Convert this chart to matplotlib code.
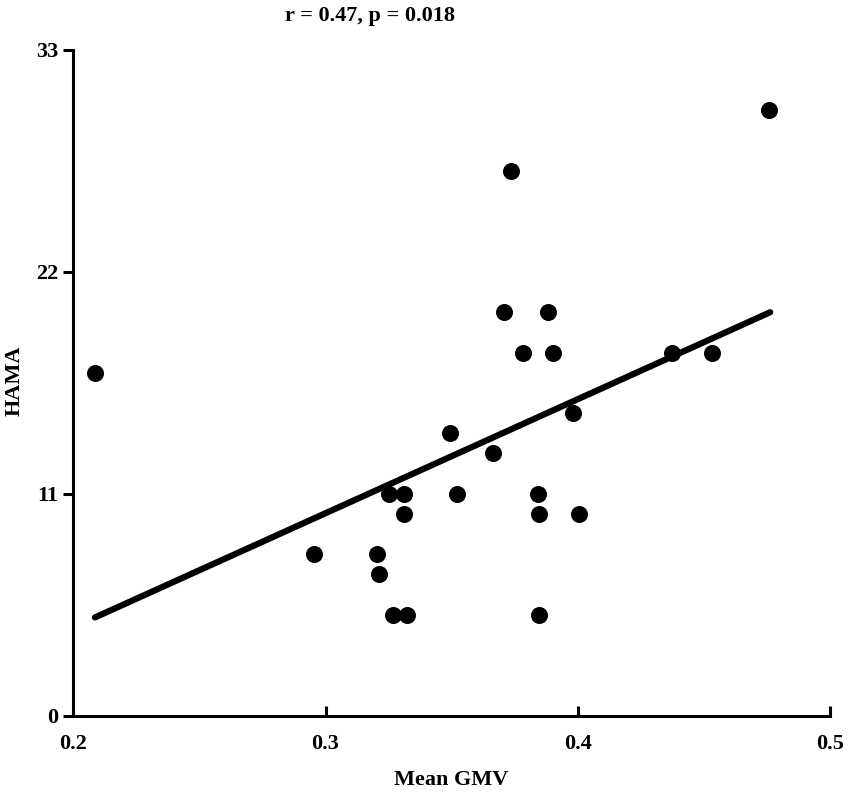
import matplotlib
matplotlib.use("Agg")
import matplotlib.pyplot as plt
import numpy as np

# Data
mean_gmv = [0.2086, 0.2955, 0.3205, 0.3212, 0.3269, 0.3322, 0.3253, 0.3312,
            0.3312, 0.3494, 0.3520, 0.3663, 0.3709, 0.3736, 0.3782, 0.3881,
            0.3901, 0.3844, 0.3847, 0.3847, 0.3983, 0.4005, 0.4375, 0.4534,
            0.4760]
hama = [17, 8, 8, 7, 5, 5, 11, 11,
        10, 14, 11, 13, 20, 27, 18, 20,
        18, 11, 10, 5, 15, 10, 18, 18,
        30]
fit_x = [0.2086, 0.4763]
fit_y = [4.87, 20.0]
x_ticks = [0.2, 0.3, 0.4, 0.5]
y_ticks = [0, 11, 22, 33]
title_text = "r = 0.47, p = 0.018"

plt.rcParams['font.family'] = ['Liberation Serif', 'DejaVu Serif']
plt.rcParams['font.weight'] = 'bold'

FS = 16

fig = plt.figure(figsize=(8.51, 7.93), dpi=100)
ax = fig.add_axes([0.0861, 0.0975, 0.9753 - 0.0861, 0.937 - 0.0975])

ax.scatter(mean_gmv, hama, s=150, color='black', zorder=3, linewidths=0)
ax.plot(fit_x, fit_y, color='black', lw=4.5, solid_capstyle='round', zorder=2)

ax.set_xlim(0.2, 0.5)
ax.set_ylim(0, 33)
ax.set_xticks(x_ticks)
ax.set_xticklabels([f"{t:.1f}" for t in x_ticks])
ax.set_yticks(y_ticks)
ax.set_yticklabels([str(t) for t in y_ticks])

for s in ['top', 'right']:
    ax.spines[s].set_visible(False)
for s in ['left', 'bottom']:
    ax.spines[s].set_linewidth(2.2)

ax.tick_params(axis='x', direction='in', length=7, width=2.2, labelsize=FS, pad=13)
ax.tick_params(axis='y', direction='out', length=7, width=2.2, labelsize=FS, pad=4)
for lbl in ax.get_xticklabels() + ax.get_yticklabels():
    lbl.set_fontweight('bold')

ax.set_xlabel("Mean GMV", fontsize=FS, fontweight='bold')
ax.xaxis.set_label_coords(0.5, (715.7 - 780) / (715.7 - 50) * 1.0, transform=ax.transAxes)
ax.set_ylabel("HAMA", fontsize=FS, fontweight='bold')
ax.yaxis.set_label_coords((15 - 73.3) / (830 - 73.3), (715.7 - 381) / (715.7 - 50), transform=ax.transAxes)
ax.xaxis.label.set_va('center')
ax.yaxis.label.set_va('center')

fig.text(370 / 851, 1 - 16 / 793, title_text, ha='center', va='center',
         fontsize=FS, fontweight='bold')

fig.savefig("out.png", dpi=100)
